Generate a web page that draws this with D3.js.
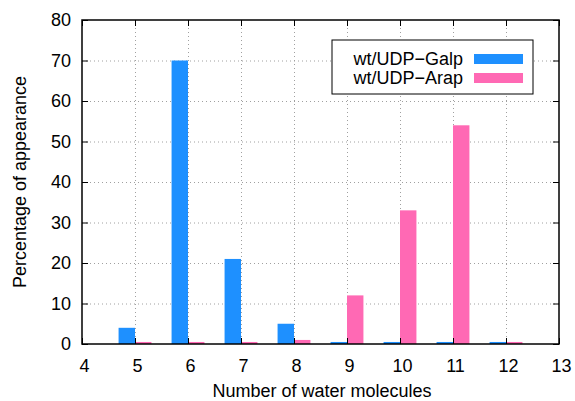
<!DOCTYPE html>
<html>
<head>
<meta charset="utf-8">
<script src="https://cdn.jsdelivr.net/npm/d3@7"></script>
<style>
  body { margin: 0; background: #fff; }
  text { font-family: "Liberation Sans", Arial, sans-serif; }
</style>
</head>
<body>
<svg width="575" height="401"></svg>
<script>
// data
var waters = [5, 6, 7, 8, 9, 10, 11, 12];
var galp = [4, 70, 21, 5, 0.5, 0.5, 0.5, 0.5];
var arap = [0.5, 0.5, 0.5, 1, 12, 33, 54, 0.5];
var seriesNames = ["wt/UDP\u2212Galp", "wt/UDP\u2212Arap"];
var seriesColors = ["#1e90ff", "#ff69b4"];
var xTicks = [4, 5, 6, 7, 8, 9, 10, 11, 12, 13];
var yTicks = [0, 10, 20, 30, 40, 50, 60, 70, 80];

// plot box (window.top is reserved, so use other names)
var pLeft = 82, pRight = 559, pTop = 20, pBottom = 344;
var svg = d3.select("svg");

var x = d3.scaleLinear().domain([4, 13]).range([pLeft, pRight]);
var y = d3.scaleLinear().domain([0, 80]).range([pBottom, pTop]);
var barW = 0.31;

// grid
var grid = svg.append("g").attr("stroke", "#a0a0a0").attr("stroke-width", 1)
    .attr("stroke-dasharray", "1,3");
grid.selectAll(".gx").data(xTicks.slice(1, -1)).enter().append("line")
    .attr("x1", function (d) { return x(d) + 0.5; })
    .attr("x2", function (d) { return x(d) + 0.5; })
    .attr("y1", pTop).attr("y2", pBottom);
grid.selectAll(".gy").data(yTicks.slice(1, -1)).enter().append("line")
    .attr("x1", pLeft).attr("x2", pRight)
    .attr("y1", function (d) { return y(d) + 0.5; })
    .attr("y2", function (d) { return y(d) + 0.5; });

// bars
var series = [galp, arap];
series.forEach(function (vals, i) {
    svg.append("g").selectAll("rect").data(vals).enter().append("rect")
        .attr("x", function (d, j) { return i === 0 ? x(waters[j] - barW) : x(waters[j]); })
        .attr("width", x(barW) - x(0))
        .attr("y", function (d) { return y(d); })
        .attr("height", function (d) { return y(0) - y(d); })
        .attr("fill", seriesColors[i]);
});

// axes (ticks inward, mirrored)
var xAxis = svg.append("g").attr("transform", "translate(0," + pBottom + ")")
    .call(d3.axisBottom(x).tickValues(xTicks).tickSize(-6).tickPadding(15).tickFormat(d3.format("d")));
var xTop = svg.append("g").attr("transform", "translate(0," + pTop + ")")
    .call(d3.axisTop(x).tickValues(xTicks).tickSize(-6).tickFormat(""));
var yAxis = svg.append("g").attr("transform", "translate(" + pLeft + ",0)")
    .call(d3.axisLeft(y).tickValues(yTicks).tickSize(-6).tickPadding(11));
var yRight = svg.append("g").attr("transform", "translate(" + pRight + ",0)")
    .call(d3.axisRight(y).tickValues(yTicks).tickSize(-6).tickFormat(""));

[xAxis, xTop, yAxis, yRight].forEach(function (g) {
    g.select(".domain").remove();
    g.selectAll("line").attr("stroke", "#000").attr("stroke-width", 1);
    g.selectAll("text").attr("font-size", "18px").attr("fill", "#000")
        .style("font-family", "'Liberation Sans', Arial, sans-serif");
});
xAxis.selectAll("text").attr("dx", "2px");

// frame
svg.append("rect").attr("x", pLeft).attr("y", pTop)
    .attr("width", pRight - pLeft).attr("height", pBottom - pTop)
    .attr("fill", "none").attr("stroke", "#000").attr("stroke-width", 1.5);

// axis titles
svg.append("text").attr("x", 322).attr("y", 397)
    .attr("text-anchor", "middle").attr("font-size", "18px")
    .text("Number of water molecules");
svg.append("text").attr("transform", "translate(26," + (pTop + pBottom) / 2 + ") rotate(-90)")
    .attr("text-anchor", "middle").attr("font-size", "18px")
    .text("Percentage of appearance");

// legend
var legend = svg.append("g");
legend.append("rect").attr("x", 332).attr("y", 40).attr("width", 201).attr("height", 54)
    .attr("fill", "#fff").attr("stroke", "#000").attr("stroke-width", 1);
seriesNames.forEach(function (name, i) {
    var ly = 58 + i * 19;
    legend.append("text").attr("x", 463).attr("y", ly + 6.5)
        .attr("text-anchor", "end").attr("font-size", "18px").text(name);
    legend.append("rect").attr("x", 474).attr("y", ly - 4).attr("width", 49).attr("height", 10)
        .attr("fill", seriesColors[i]);
});
</script>
</body>
</html>
